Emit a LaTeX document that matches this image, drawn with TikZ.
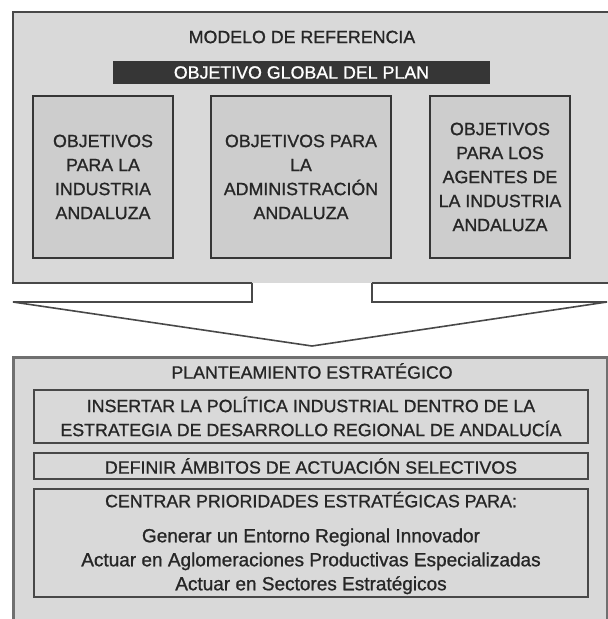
\documentclass[tikz,border=0pt]{standalone}
\usepackage{fontspec}
\setmainfont{Liberation Sans}[FakeBold=1]
\usetikzlibrary{calc}

\definecolor{fondo}{HTML}{D9D9D9}
\definecolor{caja}{HTML}{CDCDCD}
\definecolor{borde}{HTML}{484848}
\definecolor{barra}{HTML}{363636}
\definecolor{marco}{HTML}{707070}
\definecolor{texto}{HTML}{262626}

\newcommand{\minus}{\fontsize{19}{24}\selectfont}

\tikzset{
  letra/.style={font=\fontsize{17.8}{24}\selectfont, text=texto},
  objbox/.style={letra, draw=barra, line width=2pt, fill=caja, minimum width=140pt, minimum height=162pt, align=center, inner sep=0pt},
  planbox/.style={letra, draw=borde, line width=1.3pt, minimum width=554pt, align=center, inner sep=0pt},
  titulo/.style={letra, inner sep=0pt}
}

\begin{document}
\begin{tikzpicture}[x=1pt,y=-1pt]

\useasboundingbox (0,0) rectangle (608,619);
\clip (0,0) rectangle (608,619);

% modelo de referencia
\fill[fondo] (13,12) rectangle (620,283);
\draw[borde,line width=1.5pt] (252,283) -- (13,283) -- (13,12) -- (620,12);
\draw[borde,line width=1.5pt] (372,283) -- (620,283);

\node[titulo] (modelo) at (302,37) {MODELO DE REFERENCIA};
\node[letra, fill=barra, text=white, minimum width=377pt, minimum height=23pt, inner sep=0pt] (global) at (301.5,72.5) {OBJETIVO GLOBAL DEL PLAN};

\node[objbox] (objind) at (103,177) {OBJETIVOS\\PARA LA\\INDUSTRIA\\ANDALUZA};
\node[objbox, minimum width=180pt] (objadm) at (301,177) {OBJETIVOS PARA\\LA\\ADMINISTRACIÓN\\ANDALUZA};
\node[objbox] (objage) at (500,177) {OBJETIVOS\\PARA LOS\\AGENTES DE\\LA INDUSTRIA\\ANDALUZA};

% flecha
\coordinate (fizq) at (252,283);
\coordinate (fder) at (372,283);
\coordinate (punta) at (312,346);
\draw[borde,line width=1.6pt,line join=miter] (fizq) -- (252,302) -- (13,302) -- (punta) -- (607,302) -- (372,302) -- (fder);

% planteamiento estrategico
\draw[marco,line width=3pt,fill=fondo] (13,357) rectangle (607,640);

\node[titulo] (plant) at (312,371) {PLANTEAMIENTO ESTRATÉGICO};
\node[planbox, minimum height=53pt] (insertar) at (311,416.5) {INSERTAR LA POLÍTICA INDUSTRIAL DENTRO DE LA\\ESTRATEGIA DE DESARROLLO REGIONAL DE ANDALUCÍA};
\node[planbox, minimum height=26pt] (definir) at (311,466) {DEFINIR ÁMBITOS DE ACTUACIÓN SELECTIVOS};
\node[planbox, minimum height=108pt] (centrar) at (311,543) {CENTRAR PRIORIDADES ESTRATÉGICAS PARA:\\[11pt]{\minus Generar un Entorno Regional Innovador}\\{\minus Actuar en Aglomeraciones Productivas Especializadas}\\{\minus Actuar en Sectores Estratégicos}};

\end{tikzpicture}
\end{document}
